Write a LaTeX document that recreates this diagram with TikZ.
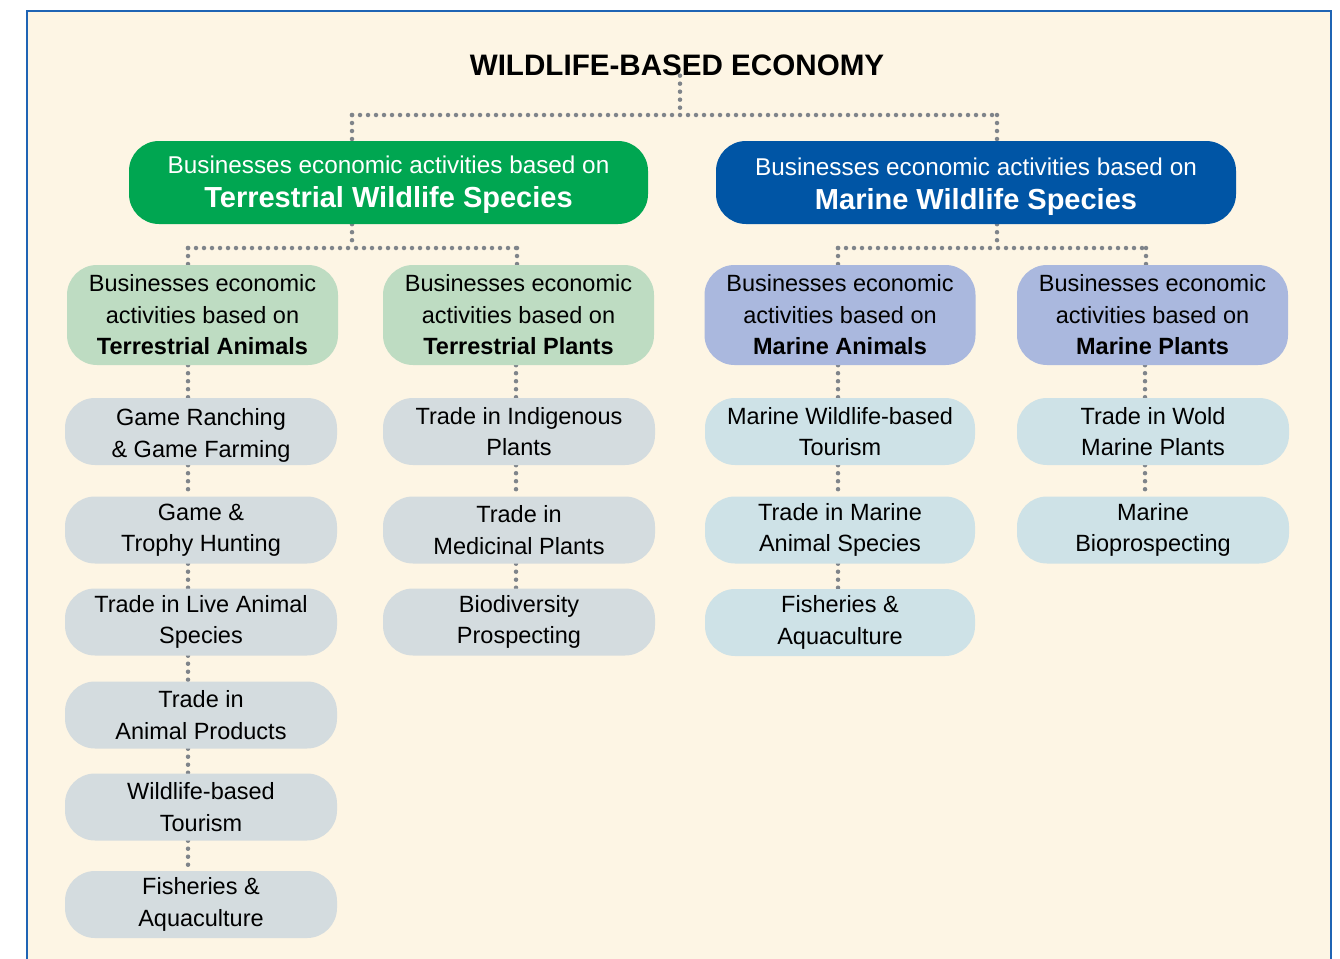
\documentclass[tikz,border=0pt]{standalone}
\usepackage{fontspec}
\setmainfont{Liberation Sans}
\definecolor{framebl}{HTML}{1F64B4}
\definecolor{cream}{HTML}{FDF5E4}
\definecolor{tgreen}{HTML}{00A651}
\definecolor{mblue}{HTML}{0055A5}
\definecolor{lgreen}{HTML}{BEDCC2}
\definecolor{lav}{HTML}{AAB8DE}
\definecolor{gbox}{HTML}{D4DCDF}
\definecolor{bbox}{HTML}{CEE2E7}
\definecolor{dotgr}{HTML}{7F848A}
\pgfdeclarelayer{framelayer}
\pgfdeclarelayer{lineslayer}
\pgfsetlayers{framelayer,lineslayer,main}
\tikzset{
  box/.style={rounded corners=30pt, inner sep=0pt, align=center, text=black,
    font=\fontsize{23.5}{31.5}\selectfont},
  topbox/.style={box, minimum width=519pt, minimum height=83pt, text=white},
  midbox/.style={box, minimum width=271pt, minimum height=100pt},
  leafbox/.style={box, minimum width=272pt, minimum height=67pt},
  dotline/.style={draw=dotgr, line width=4.5pt, line cap=round, dash pattern=on 0pt off 8pt},
}
\begin{document}
\begin{tikzpicture}[x=1pt,y=-1pt]
\useasboundingbox (0,0) rectangle (1340,958);
\begin{pgfonlayer}{framelayer}
\fill[white] (0,0) rectangle (1340,958);
\draw[framebl, line width=2.5pt, fill=cream] (27,11) rectangle (1331,990);
\end{pgfonlayer}

% title
\node[font=\bfseries\fontsize{29.6}{34}\selectfont, inner sep=0pt] (title) at (677,65) {WILDLIFE-BASED ECONOMY};

% top level
\node[topbox, fill=tgreen] (terr) at (388.5,182.5)
  {\rule{0pt}{22pt}\fontsize{24.3}{33}\selectfont Businesses economic activities based on\\[3pt]
   {\fontsize{29}{33}\selectfont\bfseries Terrestrial Wildlife Species}};
\node[topbox, fill=mblue, minimum width=520pt] (mar) at (976,182.5)
  {\rule{0pt}{26pt}\fontsize{24.3}{33}\selectfont Businesses economic activities based on\\[3pt]
   {\fontsize{29}{33}\selectfont\bfseries Marine Wildlife Species}};

% level 2
\node[midbox, fill=lgreen] (ta) at (202.5,315) {Businesses economic\\activities based on\\\textbf{Terrestrial Animals}};
\node[midbox, fill=lgreen] (tp) at (518.5,315) {Businesses economic\\activities based on\\\textbf{Terrestrial Plants}};
\node[midbox, fill=lav] (ma) at (840,315) {Businesses economic\\activities based on\\\textbf{Marine Animals}};
\node[midbox, fill=lav] (mp) at (1152.5,315) {Businesses economic\\activities based on\\\textbf{Marine Plants}};

% terrestrial animals leaves
\node[leafbox, fill=gbox] (a1) at (201,431.5) {\rule{0pt}{25pt}Game Ranching\\\& Game Farming};
\node[leafbox, fill=gbox] (a2) at (201,530) {Game \&\\Trophy Hunting};
\node[leafbox, fill=gbox] (a3) at (201,622) {Trade in Live Animal\\Species};
\node[leafbox, fill=gbox] (a4) at (201,715) {Trade in\\Animal Products};
\node[leafbox, fill=gbox] (a5) at (201,807) {Wildlife-based\\Tourism};
\node[leafbox, fill=gbox] (a6) at (201,904.5) {Fisheries \&\\Aquaculture};

% terrestrial plants leaves
\node[leafbox, fill=gbox] (p1) at (519,431.5) {Trade in Indigenous\\Plants};
\node[leafbox, fill=gbox] (p2) at (519,530) {Trade in\\Medicinal Plants};
\node[leafbox, fill=gbox] (p3) at (519,622) {Biodiversity\\Prospecting};

% marine animals leaves
\node[leafbox, fill=bbox, minimum width=270pt] (m1) at (840,431.5) {Marine Wildlife-based\\Tourism};
\node[leafbox, fill=bbox, minimum width=270pt] (m2) at (840,530) {Trade in Marine\\Animal Species};
\node[leafbox, fill=bbox, minimum width=270pt] (m3) at (840,622.5) {Fisheries \&\\Aquaculture};

% marine plants leaves
\node[leafbox, fill=bbox] (q1) at (1153,431.5) {Trade in Wold\\Marine Plants};
\node[leafbox, fill=bbox] (q2) at (1153,530) {Marine\\Bioprospecting};

% connector coordinates
\coordinate (hub) at (680,115);
\coordinate (hl) at (352,115);
\coordinate (hr) at (997,115);
\coordinate (tl) at (352,248);
\coordinate (tla) at (188,248);
\coordinate (tlp) at (517,248);
\coordinate (mr) at (997,248);
\coordinate (mra) at (838,248);
\coordinate (mrp) at (1146,248);
\coordinate (xa) at (188,0);
\coordinate (xp) at (516,0);
\coordinate (xm) at (838,0);
\coordinate (xq) at (1145,0);

\begin{pgfonlayer}{lineslayer}
\draw[dotline] (title.south -| hub) -- (hub);
\draw[dotline] (hl) -- (hr);
\draw[dotline] (hl) -- (hl |- terr.north);
\draw[dotline] (hr) -- (hr |- mar.north);
\draw[dotline] (terr.south -| tl) -- (tl);
\draw[dotline] (tla) -- (tlp);
\draw[dotline] (tla) -- (tla |- ta.north);
\draw[dotline] (tlp) -- (tlp |- tp.north);
\draw[dotline] (mar.south -| mr) -- (mr);
\draw[dotline] (mra) -- (mrp);
\draw[dotline] (mra) -- (mra |- ma.north);
\draw[dotline] (mrp) -- (mrp |- mp.north);
% columns
\draw[dotline] (ta.south -| xa) -- (a1.north -| xa);
\draw[dotline] (a1.south -| xa) -- (a2.north -| xa);
\draw[dotline] (a2.south -| xa) -- (a3.north -| xa);
\draw[dotline] (a3.south -| xa) -- (a4.north -| xa);
\draw[dotline] (a4.south -| xa) -- (a5.north -| xa);
\draw[dotline] (a5.south -| xa) -- (a6.north -| xa);
\draw[dotline] (tp.south -| xp) -- (p1.north -| xp);
\draw[dotline] (p1.south -| xp) -- (p2.north -| xp);
\draw[dotline] (p2.south -| xp) -- (p3.north -| xp);
\draw[dotline] (ma.south -| xm) -- (m1.north -| xm);
\draw[dotline] (m1.south -| xm) -- (m2.north -| xm);
\draw[dotline] (m2.south -| xm) -- (m3.north -| xm);
\draw[dotline] (mp.south -| xq) -- (q1.north -| xq);
\draw[dotline] (q1.south -| xq) -- (q2.north -| xq);
\end{pgfonlayer}
\end{tikzpicture}
\end{document}
